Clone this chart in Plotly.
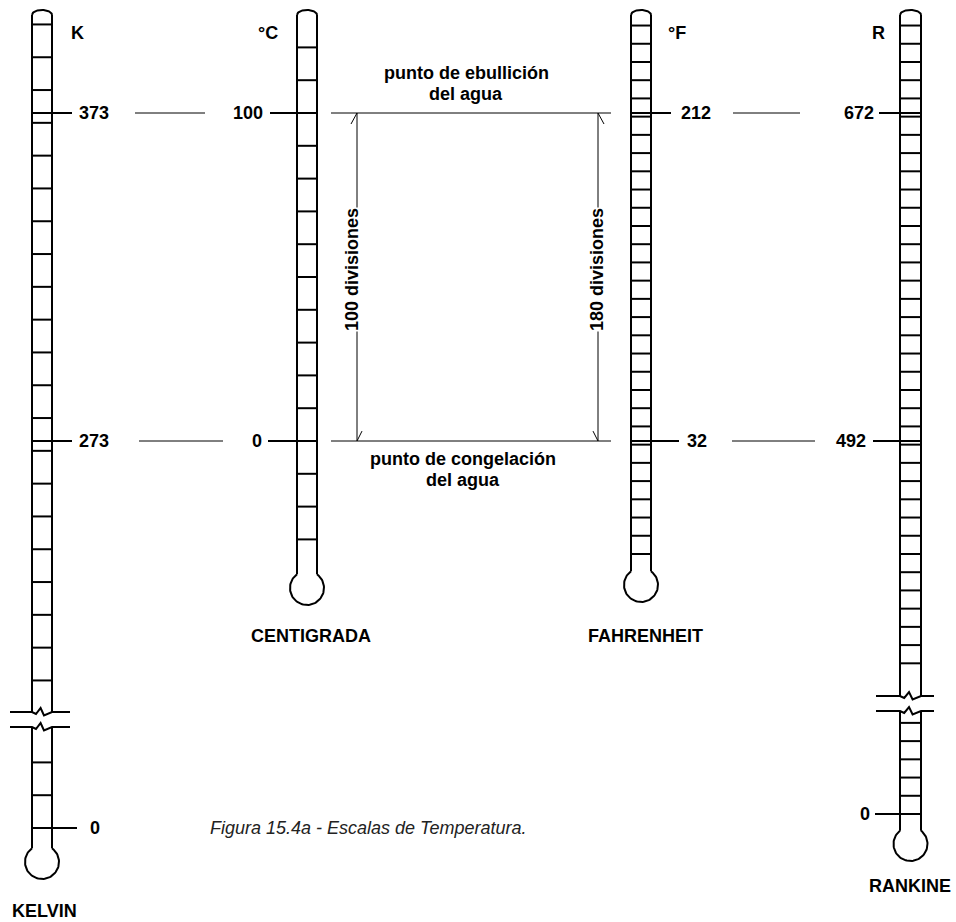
import numpy as np
import plotly.graph_objects as go

W, H = 956, 922

# graduations of each thermometer (one mark every 10 degrees)
kelvin_ticks_hi = list(range(200, 401, 10))
kelvin_ticks_lo = [0, 10, 20]
celsius_ticks = list(range(-30, 121, 10))
fahrenheit_ticks = list(range(-30, 261, 10))
rankine_ticks_hi = list(range(370, 721, 10))
rankine_ticks_lo = [0, 10, 20, 30, 40, 50]

# labelled points: boiling and freezing of water, absolute zero
kelvin_marks = [373, 273]
celsius_marks = [100, 0]
fahrenheit_marks = [212, 32]
rankine_marks = [672, 492]
zero_mark = 0

scale_names = ['K', '°C', '°F', 'R']
scale_titles = ['KELVIN', 'CENTIGRADA', 'FAHRENHEIT', 'RANKINE']
boil_text = ['punto de ebullición', 'del agua']
freeze_text = ['punto de congelación', 'del agua']
divisions = ['100 divisiones', '180 divisiones']
caption = 'Figura 15.4a - Escalas de Temperatura.'

FONT = 'Liberation Sans, Arial, sans-serif'
Y_BOIL, Y_FREEZE = 113, 441      # pixel rows of boiling / freezing lines
K_ZERO_PX, R_ZERO_PX = 828, 814  # pixel rows of absolute zero (below the break)


def yrange(t1, p1, t2, p2):
    s = (p1 - p2) / (t2 - t1)
    return [t1 - (H - p1) / s, t1 + p1 / s]


fig = go.Figure()


def line(xs, ys, yaxis='y', width=2):
    fig.add_trace(go.Scatter(x=xs, y=ys, mode='lines', yaxis=yaxis,
                             line=dict(color='black', width=width),
                             hoverinfo='skip', showlegend=False))


def ticks(vals, xl, xr, yaxis):
    xs, ys = [], []
    for v in vals:
        xs += [xl, xr, None]
        ys += [v, v, None]
    line(xs, ys, yaxis)


def thermometer(xl, xr, cy, brk=None, ext=None, r=17):
    xc = (xl + xr) / 2
    w = (xr - xl) / 2
    h = np.sqrt(r ** 2 - w ** 2)
    jy = cy - h
    # walls
    if brk is None:
        line([xl, xl], [15, jy])
        line([xr, xr], [15, jy])
    else:
        for a, b in [(15, brk[0]), (brk[1], jy)]:
            line([xl, xl], [a, b])
            line([xr, xr], [a, b])
        fx = [0, 0.2, 0.43, 0.6, 1]
        fy = [0, 2, -4, 3.5, 0]
        for yb in brk:
            xs = [ext[0]] + [xl + f * (xr - xl) for f in fx] + [ext[1]]
            ys = [yb] + [yb + d for d in fy] + [yb]
            line(xs, ys)
    # rounded top
    t = np.linspace(np.pi, 0, 30)
    line(xc + w * np.cos(t), 15 - 5 * np.sin(t))
    # bulb
    t1 = np.arctan2(h, -w)
    t2 = np.arctan2(h, w) + 2 * np.pi
    t = np.linspace(t1, t2, 80)
    line(xc + r * np.cos(t), cy - r * np.sin(t))


def label(text, x, y, yref='y', xanchor='center', size=18, bold=True,
          italic=False, angle=0, bg=None, color='black'):
    fig.add_annotation(text=text, x=x, y=y, xref='x', yref=yref, showarrow=False,
                       xanchor=xanchor, yanchor='middle', textangle=angle,
                       bgcolor=bg, borderpad=0,
                       font=dict(family=FONT, size=size, color=color,
                                 weight='bold' if bold else 'normal',
                                 style='italic' if italic else 'normal'))


# --- Kelvin ---------------------------------------------------------------
KL, KR = 32, 52
thermometer(KL, KR, 862, brk=(712, 727), ext=(10, 70))
ticks(kelvin_ticks_hi, KL, KR, 'y2')
ticks(kelvin_ticks_lo, KL, KR, 'y6')
for v in kelvin_marks:
    line([KL, 72], [v, v], 'y2')
    label(str(v), 78, v, 'y2', 'left')
line([KL, 77], [zero_mark, zero_mark], 'y6')
label(str(zero_mark), 89, zero_mark, 'y6', 'left')
line([135, 205], [kelvin_marks[0]] * 2, 'y2', 1)
line([139, 223], [kelvin_marks[1]] * 2, 'y2', 1)

# --- Celsius --------------------------------------------------------------
CL, CR = 297, 317
thermometer(CL, CR, 588)
ticks(celsius_ticks, CL, CR, 'y3')
line([270, CR], [celsius_marks[0]] * 2, 'y3')
line([268, CR], [celsius_marks[1]] * 2, 'y3')
label(str(celsius_marks[0]), 264, celsius_marks[0], 'y3', 'right')
label(str(celsius_marks[1]), 263, celsius_marks[1], 'y3', 'right')
for v in celsius_marks:
    line([331, 611], [v, v], 'y3', 1)

# dimension lines with half arrow heads
s_c = (Y_FREEZE - Y_BOIL) / (celsius_marks[0] - celsius_marks[1])
wing = 11 / s_c
for xd, side in [(357, -1), (598, 1)]:
    line([xd, xd], celsius_marks, 'y3', 1)
    line([xd + side * 6, xd, None, xd, xd - side * 5],
         [celsius_marks[0] - wing, celsius_marks[0], None,
          celsius_marks[1], celsius_marks[1] + wing * 0.9], 'y3', 1)

# --- Fahrenheit -----------------------------------------------------------
FL, FR = 631, 651
thermometer(FL, FR, 585)
ticks(fahrenheit_ticks, FL, FR, 'y4')
line([FL, 671], [fahrenheit_marks[0]] * 2, 'y4')
line([FL, 679], [fahrenheit_marks[1]] * 2, 'y4')
label(str(fahrenheit_marks[0]), 680, fahrenheit_marks[0], 'y4', 'left')
label(str(fahrenheit_marks[1]), 686, fahrenheit_marks[1], 'y4', 'left')
line([733, 800], [fahrenheit_marks[0]] * 2, 'y4', 1)
line([732, 815], [fahrenheit_marks[1]] * 2, 'y4', 1)

# --- Rankine --------------------------------------------------------------
RL, RR = 900, 921
thermometer(RL, RR, 844, brk=(696, 711), ext=(876, 934))
ticks(rankine_ticks_hi, RL, RR, 'y5')
ticks(rankine_ticks_lo, RL, RR, 'y7')
line([879, RR], [rankine_marks[0]] * 2, 'y5')
line([873, RR], [rankine_marks[1]] * 2, 'y5')
label(str(rankine_marks[0]), 875, rankine_marks[0], 'y5', 'right')
label(str(rankine_marks[1]), 867, rankine_marks[1], 'y5', 'right')
line([875, RR], [zero_mark, zero_mark], 'y7')
label(str(zero_mark), 871, zero_mark, 'y7', 'right')

# --- texts ----------------------------------------------------------------
for name, x in zip(scale_names, [77, 268, 677, 878]):
    label(name, x, 33)
for title, (x, y) in zip(scale_titles, [(44, 911), (311, 636), (645, 636), (910, 886)]):
    label(title, x, y)
label(boil_text[0], 466, 73)
label(boil_text[1], 466, 94)
label(freeze_text[0], 463, 459)
label(freeze_text[1], 463, 480)
label(divisions[0], 352, 270, angle=-90, bg='white')
label(divisions[1], 597, 270, angle=-90, bg='white')
label(caption, 368, 828, bold=False, italic=True, color='#222')

hidden = dict(visible=False, fixedrange=True)
fig.update_layout(
    width=W, height=H, autosize=False,
    margin=dict(l=0, r=0, t=0, b=0),
    paper_bgcolor='white', plot_bgcolor='white',
    showlegend=False,
    xaxis=dict(range=[0, W], **hidden),
    yaxis=dict(range=[H, 0], **hidden),
    yaxis2=dict(range=yrange(kelvin_marks[1], Y_FREEZE, kelvin_marks[0], Y_BOIL), overlaying='y', **hidden),
    yaxis3=dict(range=yrange(celsius_marks[1], Y_FREEZE, celsius_marks[0], Y_BOIL), overlaying='y', **hidden),
    yaxis4=dict(range=yrange(fahrenheit_marks[1], Y_FREEZE, fahrenheit_marks[0], Y_BOIL), overlaying='y', **hidden),
    yaxis5=dict(range=yrange(rankine_marks[1], Y_FREEZE, rankine_marks[0], Y_BOIL), overlaying='y', **hidden),
    yaxis6=dict(range=yrange(zero_mark, K_ZERO_PX, 100, K_ZERO_PX - (Y_FREEZE - Y_BOIL)), overlaying='y', **hidden),
    yaxis7=dict(range=yrange(zero_mark, R_ZERO_PX, 180, R_ZERO_PX - (Y_FREEZE - Y_BOIL)), overlaying='y', **hidden),
)

# the page body has a default 8px margin; remove it so the figure fills the window
fig.write_html("out.html", config={'displayModeBar': False},
               post_script="document.body.style.margin='0';document.body.style.overflow='hidden';")
